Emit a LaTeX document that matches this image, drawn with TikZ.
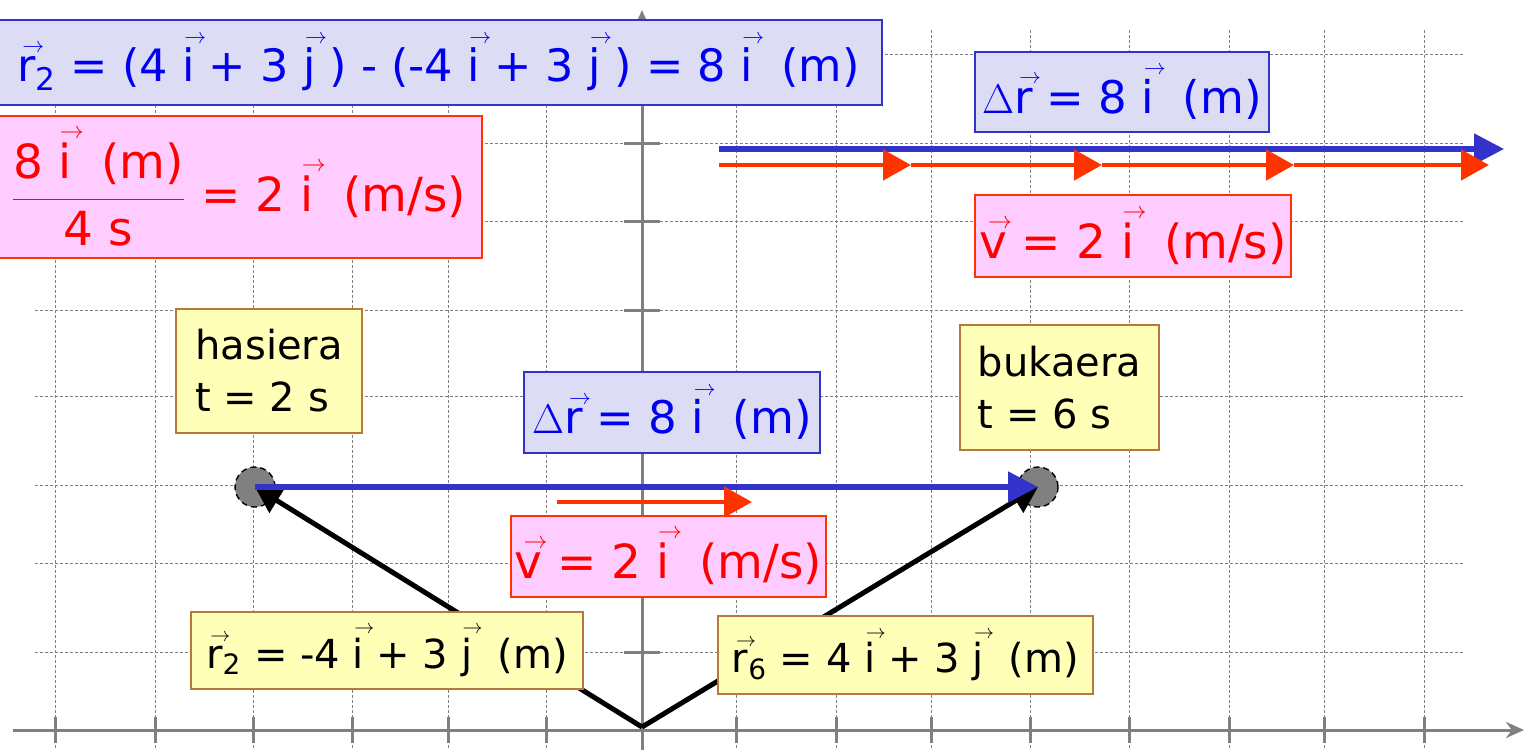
\documentclass[tikz,border=0pt]{standalone}
\usepackage{fontspec}
\setmainfont{DejaVu Sans}
\usetikzlibrary{arrows.meta}
\definecolor{boxB}{HTML}{DCDCF5}
\definecolor{lineB}{HTML}{3333CC}
\definecolor{txtB}{HTML}{0000EE}
\definecolor{boxP}{HTML}{FFCCFF}
\definecolor{lineR}{HTML}{FF3300}
\definecolor{txtR}{HTML}{FF0000}
\definecolor{boxY}{HTML}{FFFFB8}
\definecolor{lineY}{HTML}{B87838}
\definecolor{gridC}{HTML}{808080}
\newcommand{\vv}[1]{\ensuremath{\mathop{\mbox{#1}}\limits^{\makebox[0pt]{\kern0.3em$\scriptscriptstyle\rightarrow$}}}}
\tikzset{
  bluebox/.style={draw=lineB, fill=boxB, text=txtB, line width=1pt, inner sep=0pt,
                  font=\fontsize{22.5}{28}\selectfont},
  pinkbox/.style={draw=lineR, fill=boxP, text=txtR, line width=1pt, inner sep=0pt,
                  font=\fontsize{23.5}{28}\selectfont},
  yelbox/.style={draw=lineY, fill=boxY, text=black, line width=0.8pt, inner sep=0pt,
                 align=left, font=\fontsize{20}{26}\selectfont},
  dot/.style={circle, draw=black, densely dashed, fill=gridC, minimum size=20pt,
              inner sep=0pt, line width=0.7pt},
  blk/.style={line width=2.5pt, -{Triangle[length=13pt,width=14pt]}},
  blu/.style={line width=2.6pt, lineB, -{Triangle[length=15pt,width=15pt]}},
  vel/.style={line width=2.4pt, lineR, -{Triangle[length=14pt,width=15pt]}},
  gridln/.style={gridC, line width=0.5pt, dash pattern=on 1.5pt off 1pt},
  axis/.style={gridC, line width=1.5pt},
}
\begin{document}
\begin{tikzpicture}[x=0.5pt, y=-0.5pt]
\useasboundingbox (0,0) rectangle (1536,750);
% grid and axes
\foreach \x in {55,155,253,352,448,546,736,836,931,1030,1129,1229,1324,1424}
  \draw[gridln] (\x,30) -- (\x,750);
\foreach \y in {54,143,221,310,396,485,563,652}
  \draw[gridln] (35,\y) -- (1463,\y);
\coordinate (xa) at (13,730);
\coordinate (xb) at (1524,730);
\coordinate (ya) at (642,750);
\coordinate (yb) at (642,10);
\draw[axis, -{Stealth[length=9pt,width=8pt]}] (xa) -- (xb);
\draw[axis, -{Stealth[length=9pt,width=8pt]}] (ya) -- (yb);
\foreach \x in {55,155,253,352,448,546,736,836,931,1030,1129,1229,1324,1424}
  \draw[axis] (\x,717) -- (\x,743);
\foreach \y in {54,143,221,310,396,485,563,652}
  \draw[axis] (624,\y) -- (660,\y);
% points and vectors
\coordinate (O) at (642,727);
\node[dot] (p2) at (255,487) {};
\node[dot] (p6) at (1038,487) {};
\draw[blk] (O) -- (p2.center);
\draw[blk] (O) -- (p6.center);
\draw[blu] (p2.center) -- (p6.center);
\coordinate (m0) at (557,502);
\coordinate (m1) at (752,502);
\draw[vel] (m0) -- (m1);
% top right arrows
\coordinate (bA) at (719,149);
\coordinate (bB) at (1504,149);
\draw[blu] (bA) -- (bB);
\coordinate (v0) at (719,165);
\coordinate (v1) at (911,165);
\coordinate (v2) at (1102,165);
\coordinate (v3) at (1294,165);
\coordinate (v4) at (1489,165);
\foreach \a/\b in {v0/v1,v1/v2,v2/v3,v3/v4}
  \draw[vel] (\a) -- (\b);
% boxes
\node[bluebox, minimum width=443.5pt, minimum height=42.5pt, font=\fontsize{22.3}{26}\selectfont] (diff) at (438.5,62.5)
  {\vv{r}\textsubscript{2} = (4 \vv{i} + 3 \vv{j} ) - (-4 \vv{i} + 3 \vv{j} ) = 8 \vv{i}~ (m)};
\node[pinkbox, minimum width=243.5pt, minimum height=71pt] (frac) at (238.5,187)
  {$\displaystyle\frac{\mbox{8 \vv{i}~ (m)}}{\mbox{4 s}}$ = 2 \vv{i}~ (m/s)};
\node[bluebox, minimum width=147pt, minimum height=40pt] (drtop) at (1122,92)
  {$\Delta$\vv{r} = 8 \vv{i}~ (m)};
\node[pinkbox, minimum width=158pt, minimum height=41pt] (vtop) at (1133,236)
  {\vv{v} = 2 \vv{i}~ (m/s)};
\node[yelbox, minimum width=93pt, minimum height=62pt] (start) at (269,371)
  {hasiera\\t = 2 s};
\node[yelbox, minimum width=99.5pt, minimum height=62.5pt] (end) at (1059.5,387.5)
  {bukaera\\t = 6 s};
\node[bluebox, minimum width=148pt, minimum height=40.5pt] (drmid) at (672,412.5)
  {$\Delta$\vv{r} = 8 \vv{i}~ (m)};
\node[pinkbox, minimum width=157.5pt, minimum height=40.5pt] (vmid) at (668.5,556.5)
  {\vv{v} = 2 \vv{i}~ (m/s)};
\node[yelbox, minimum width=196pt, minimum height=38.5pt] (rtwo) at (387,650.5)
  {\vv{r}\textsubscript{2} = -4 \vv{i} + 3 \vv{j}~ (m)};
\node[yelbox, minimum width=187.5pt, minimum height=39pt] (rsix) at (905.5,655)
  {\vv{r}\textsubscript{6} = 4 \vv{i} + 3 \vv{j}~ (m)};
\end{tikzpicture}
\end{document}
